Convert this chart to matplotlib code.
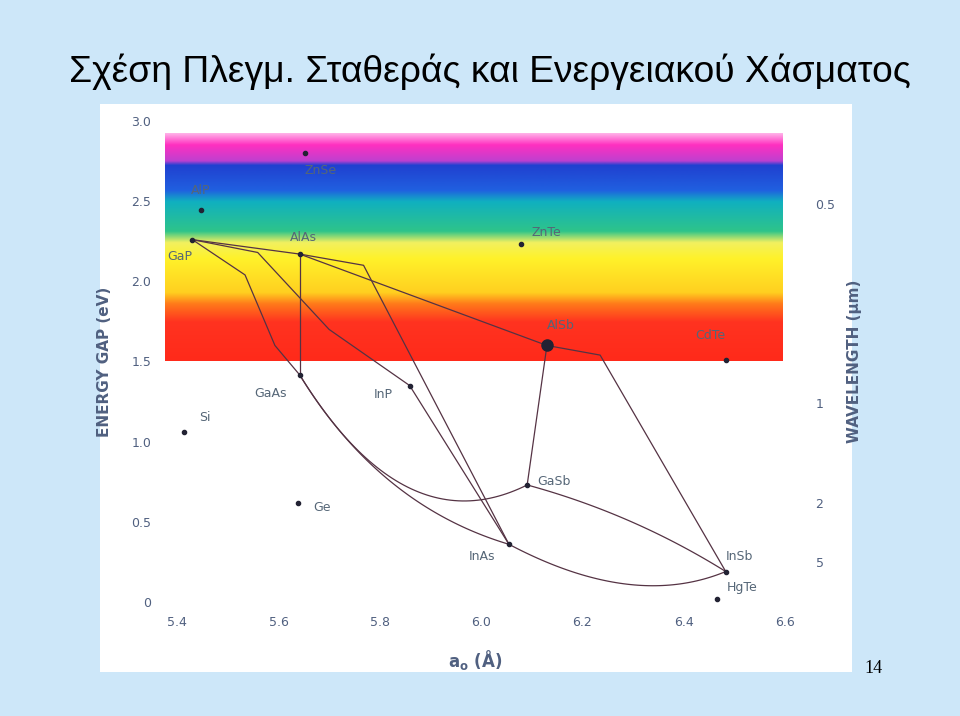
import numpy as np
import matplotlib.pyplot as plt
from matplotlib.colors import LinearSegmentedColormap

# compounds: lattice constant (A), energy gap (eV)
names = ['AlP', 'ZnSe', 'GaP', 'AlAs', 'ZnTe', 'AlSb', 'CdTe', 'GaAs', 'InP',
         'Si', 'GaSb', 'Ge', 'InAs', 'InSb', 'HgTe']
a0 = [5.447, 5.652, 5.43, 5.642, 6.079, 6.13, 6.483, 5.642, 5.859,
      5.414, 6.091, 5.638, 6.055, 6.483, 6.465]
eg = [2.445, 2.80, 2.26, 2.17, 2.23, 1.60, 1.51, 1.416, 1.35,
      1.06, 0.73, 0.62, 0.36, 0.19, 0.02]
label_off = {'AlP': (-0.02, 0.1), 'ZnSe': (0.0, -0.13), 'GaP': (-0.05, -0.13), 'AlAs': (-0.02, 0.08),
             'ZnTe': (0.02, 0.05), 'AlSb': (0.0, 0.1), 'CdTe': (-0.06, 0.13), 'GaAs': (-0.09, -0.14),
             'InP': (-0.07, -0.08), 'Si': (0.03, 0.07), 'GaSb': (0.02, 0.0), 'Ge': (0.03, -0.05),
             'InAs': (-0.08, -0.1), 'InSb': (0.0, 0.07), 'HgTe': (0.02, 0.05)}

# straight-segment alloy lines (a0, eV)
polylines = [
    [(5.43, 2.26), (5.642, 2.17)],
    [(5.43, 2.26), (5.534, 2.04), (5.593, 1.60), (5.642, 1.416)],
    [(5.43, 2.26), (5.559, 2.18), (5.70, 1.70), (5.859, 1.35)],
    [(5.642, 2.17), (5.642, 1.416)],
    [(5.642, 2.17), (5.768, 2.10), (6.055, 0.36)],
    [(5.859, 1.35), (6.055, 0.36)],
    [(5.642, 2.17), (6.13, 1.60)],
    [(6.13, 1.60), (6.235, 1.54), (6.483, 0.19)],
    [(6.13, 1.60), (6.091, 0.73)],
]
# curved alloy lines: (start, control, end)
curves = [
    ((5.642, 1.416), (5.8, 0.6), (6.055, 0.36)),
    ((5.642, 1.416), (5.85, 0.35), (6.091, 0.73)),
    ((6.091, 0.73), (6.3, 0.55), (6.483, 0.19)),
    ((6.055, 0.36), (6.3, -0.05), (6.483, 0.19)),
]
wl_ticks = [0.5, 1, 2, 5]

fig = plt.figure(figsize=(9.6, 7.16), dpi=100)
fig.patch.set_facecolor('#cde7f9')
fig.text(0.072, 0.886, 'Σχέση Πλεγμ. Σταθεράς και Ενεργειακού Χάσματος',
         fontsize=26.8, family='Liberation Sans')
fig.text(0.9, 0.06, '14', fontsize=13, family='Liberation Serif')

bg = fig.add_axes([100 / 960, 44 / 716, 752 / 960, 568 / 716])
bg.set_facecolor('white')
bg.set_xticks([]); bg.set_yticks([])
for s in bg.spines.values():
    s.set_visible(False)

ax = fig.add_axes([165 / 960, 114 / 716, 620 / 960, 481 / 716])
ax.set_xlim(5.376, 6.596)
ax.set_ylim(0, 3.0)
ax.patch.set_alpha(0)

# rainbow bands
cmap = LinearSegmentedColormap.from_list('rb', [
    (0.0, '#ff2a1a'), (0.17, '#ff3320'), (0.25, '#ff7a1a'), (0.30, '#ffd020'),
    (0.45, '#fff22a'), (0.52, '#f2f060'), (0.57, '#2ec48a'), (0.70, '#10b0c0'),
    (0.75, '#2060e0'), (0.86, '#2040d0'), (0.88, '#c040d0'), (0.95, '#ff30c0'),
    (1.0, '#ffb0e8')])
grad = np.linspace(0, 1, 256).reshape(-1, 1)
ax.imshow(grad, cmap=cmap, aspect='auto', origin='lower',
          extent=[5.376, 6.596, 1.5, 2.92], zorder=0)

lc = '#553344'
for line in polylines:
    xs, ys = zip(*line)
    ax.plot(xs, ys, color=lc, lw=0.9, zorder=2)
t = np.linspace(0, 1, 60)[:, None]
for p0, p1, p2 in curves:
    p0, p1, p2 = map(np.array, (p0, p1, p2))
    pts = (1 - t) ** 2 * p0 + 2 * (1 - t) * t * p1 + t ** 2 * p2
    ax.plot(pts[:, 0], pts[:, 1], color=lc, lw=0.9, zorder=2)

for n, x, y in zip(names, a0, eg):
    ax.plot(x, y, 'o', color='#222233', ms=8 if n == 'AlSb' else 3, zorder=3)
    dx, dy = label_off[n]
    ax.text(x + dx, y + dy, n, fontsize=9, color='#556677', zorder=4)

tc = '#506080'
ax.set_xticks(np.arange(5.4, 6.61, 0.2))
ax.set_xticklabels(['5.4', '5.6', '5.8', '6.0', '6.2', '6.4', '6.6'])
ax.set_yticks(np.arange(0, 3.01, 0.5))
ax.set_yticklabels(['0', '0.5', '1.0', '1.5', '2.0', '2.5', '3.0'])
ax.tick_params(length=0, labelcolor=tc, labelsize=9, pad=10)
ax.set_ylabel('ENERGY GAP (eV)', color=tc, fontsize=11, fontweight='bold', labelpad=14)
ax.set_xlabel(r'a$_\mathregular{o}$ (Å)', color=tc, fontsize=12, fontweight='bold', labelpad=14)
for s in ax.spines.values():
    s.set_visible(False)

ax2 = ax.twinx()
ax2.set_ylim(0, 3.0)
ax2.set_yticks([1.24 / w for w in wl_ticks])
ax2.set_yticklabels([str(w) for w in wl_ticks])
ax2.tick_params(length=0, labelcolor=tc, labelsize=9, pad=22)
ax2.set_ylabel('WAVELENGTH (µm)', color=tc, fontsize=11, fontweight='bold', labelpad=8)
for s in ax2.spines.values():
    s.set_visible(False)

fig.savefig('out.png', dpi=100, facecolor=fig.get_facecolor())
